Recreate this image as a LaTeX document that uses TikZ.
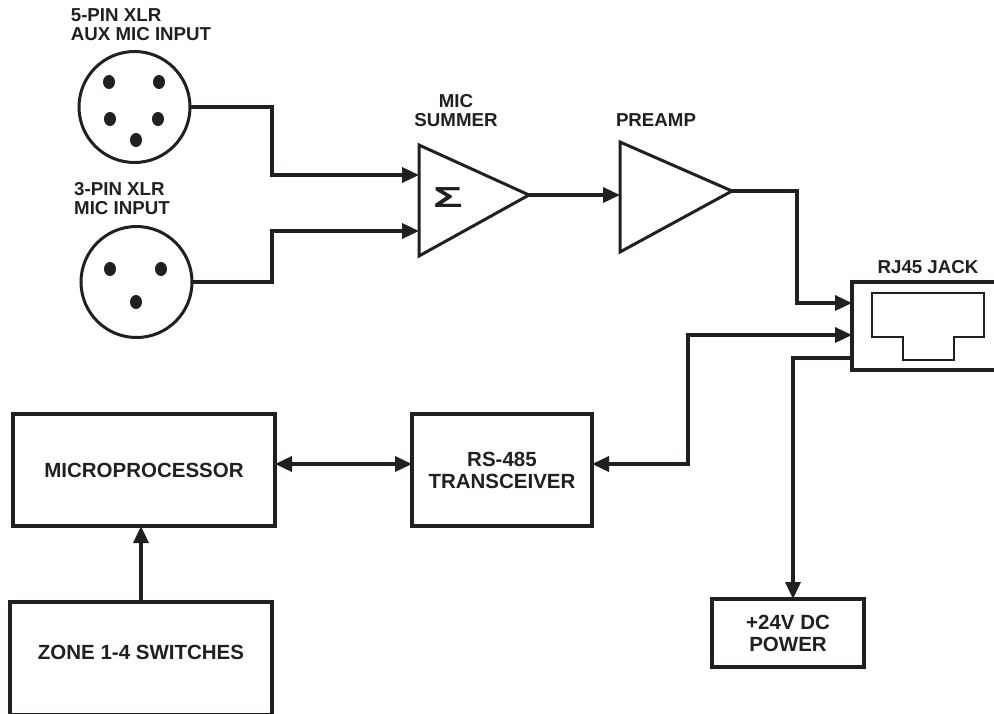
\documentclass[tikz,border=0pt]{standalone}
\usepackage{fontspec}
\setmainfont{Liberation Sans}
\usetikzlibrary{positioning, arrows.meta, shapes.geometric}
\definecolor{ink}{HTML}{231F20}

\begin{document}
\begin{tikzpicture}[
  x=1pt, y=-1pt,
  block/.style={rectangle, draw=ink, line width=3.5pt, outer sep=0pt, inner sep=0pt, align=center, text=ink,
    font=\bfseries\fontsize{20.5}{22}\selectfont},
  amp/.style={draw=ink, line width=3pt, line join=miter},
  xlr/.style={circle, draw=ink, line width=3pt, outer sep=0pt, inner sep=0pt, minimum size=111pt},
  contact/.style={ellipse, fill=ink, inner sep=0pt, minimum width=12pt, minimum height=14pt},
  tag/.style={align=center, inner sep=0pt, text=ink, font=\bfseries\fontsize{18.7}{19}\selectfont},
  relation/.style={draw=ink, line width=3.5pt, >={Triangle[length=17pt,width=15pt]}}
]
\useasboundingbox (0,0) rectangle (994,713);
\clip (0,0) rectangle (994,713);

% Connectors
\node[xlr] (aux) at (134.5,107) {};
\node[xlr] (mic) at (136.5,282) {};
\foreach \cx/\cy [count=\i] in {109/82, 159/82, 110/119, 158/119, 136/140}
  \node[contact] (auxpin\i) at (\cx,\cy) {};
\foreach \cx/\cy [count=\i] in {110/269, 161/269, 136/302}
  \node[contact] (micpin\i) at (\cx,\cy) {};
\node[tag, align=left, above=11pt of aux, xshift=6.5pt] (auxlabel) {5-PIN XLR\\AUX MIC INPUT};
\node[tag, align=left, above=12pt of mic, xshift=-14.5pt] (miclabel) {3-PIN XLR\\MIC INPUT};

% Amplificadores
\coordinate (summertop) at (419,145);
\coordinate (summerbot) at (419,256);
\coordinate (summerout) at (529,195);
\coordinate (preamptop) at (620,142);
\coordinate (preampbot) at (620,252);
\coordinate (preampout) at (732,191);
\draw[amp] (summertop) -- (summerout) -- (summerbot) -- cycle;
\draw[amp] (preamptop) -- (preampout) -- (preampbot) -- cycle;
\node[text=ink, font=\bfseries\fontsize{29}{29}\selectfont] (sigma) at (448,198) {\scalebox{1.7}[1]{Σ}};
\node[tag] (summerlabel) at (456,111) {MIC\\SUMMER};
\node[tag] (preamplabel) at (656,120) {PREAMP};
\coordinate (summerup) at (419,175);
\coordinate (summerlow) at (419,231);
\coordinate (preampin) at (620,195);

% Bloques
\node[block, minimum width=262pt, minimum height=112pt] (micro) at (144,470) {MICROPROCESSOR};
\node[block, minimum width=180pt, minimum height=112pt] (rs485) at (502,470) {RS-485\\TRANSCEIVER};
\node[block, minimum width=262pt, minimum height=113pt, text depth=13pt] (zone) at (141,658.5) {ZONE 1-4 SWITCHES};
\node[block, minimum width=152pt, minimum height=68pt] (power) at (788,633) {+24V DC\\POWER};
\node[block, minimum width=148pt, minimum height=88pt] (jack) at (926,326) {};
\node[tag] (jacklabel) at (928,267) {RJ45 JACK};
\draw[ink, line width=1.5pt] (872,293) -- (984,293) -- (984,337) -- (954,337) -- (954,360)
  -- (903,360) -- (903,337) -- (872,337) -- cycle;
\coordinate (jackup) at (852,303);
\coordinate (jackmid) at (852,335);
\coordinate (jacklow) at (852,358);
\coordinate (rs485east) at (592,464);
\coordinate (rs485west) at (412,464);
\coordinate (microeast) at (275,464);

% Relaciones
\draw[relation, ->] (aux.east) -| (272,175) -- (summerup);
\draw[relation, ->] (mic.east) -| (272,231) -- (summerlow);
\draw[relation, ->] (summerout) -- (preampin);
\draw[relation, ->] (preampout) -| (797,303) -- (jackup);
\draw[relation, <->] (rs485east) -| (688,335) -- (jackmid);
\draw[relation, ->] (jacklow) -| (power.north -| 793,0);
\draw[relation, <->] (microeast) -- (rs485west);
\draw[relation, ->] (zone.north) -- (micro.south -| zone.north);

\end{tikzpicture}
\end{document}
